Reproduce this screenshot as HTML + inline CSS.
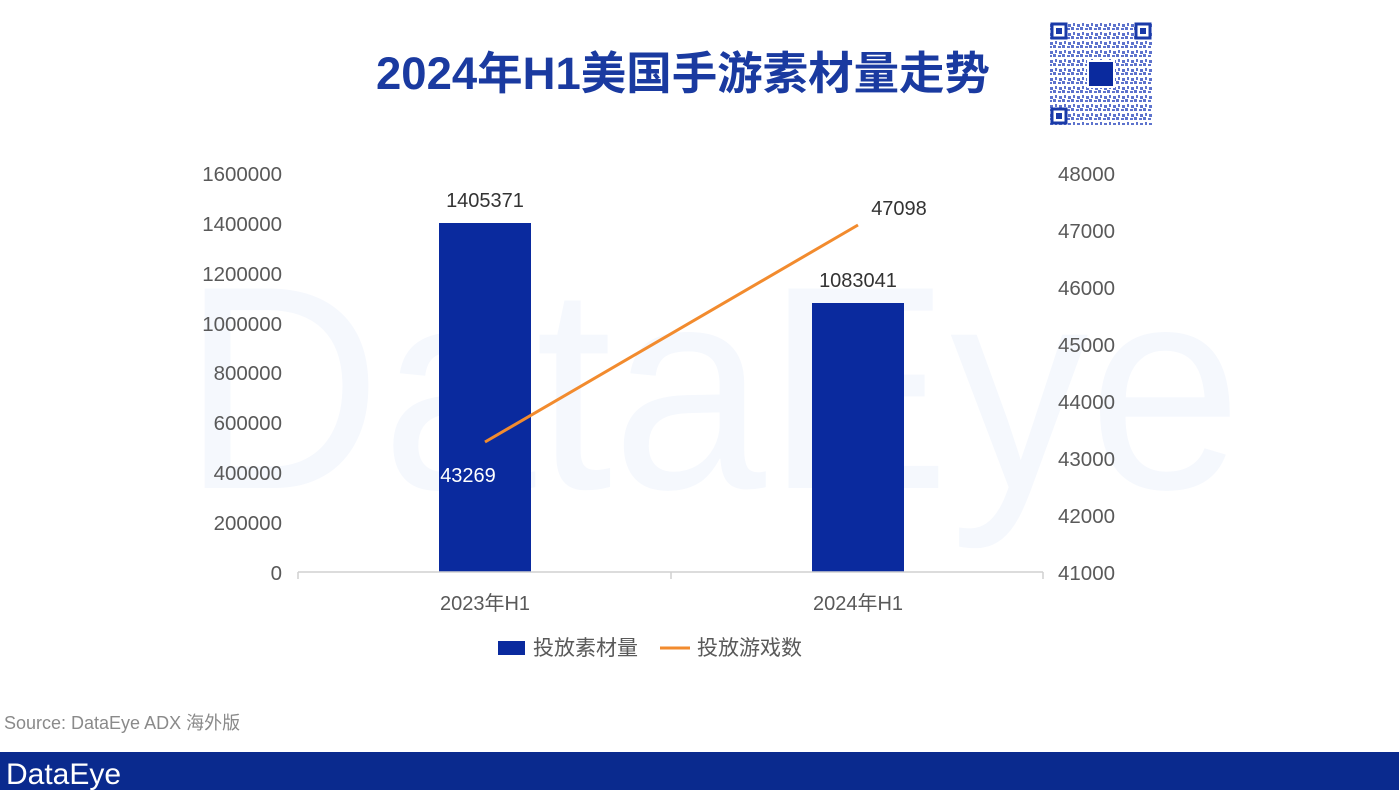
<!DOCTYPE html>
<html><head><meta charset="utf-8"><style>
body{margin:0;width:1399px;height:790px;background:#fff;overflow:hidden;font-family:"Liberation Sans","Noto Sans CJK SC",sans-serif}
</style></head><body>
<svg width="1399" height="790" xmlns="http://www.w3.org/2000/svg" font-family="Liberation Sans, Noto Sans CJK SC, sans-serif">
<defs>
<pattern id="qr" width="9" height="9" patternUnits="userSpaceOnUse">
<rect x="0" y="0" width="3" height="3" fill="#3550c0"/><rect x="5" y="1" width="3" height="2" fill="#3550c0"/><rect x="2" y="5" width="2" height="3" fill="#3550c0"/><rect x="6" y="6" width="3" height="3" fill="#3550c0"/>
</pattern>
</defs>
<text x="712" y="488" font-size="290" fill="#f5f8fd" text-anchor="middle" textLength="1060" lengthAdjust="spacingAndGlyphs" font-family="Liberation Sans, sans-serif">DataEye</text>
<text x="683" y="89" font-size="45" font-weight="bold" fill="#1a3aa0" text-anchor="middle" textLength="614" lengthAdjust="spacingAndGlyphs">2024年H1美国手游素材量走势</text>
<rect x="1050" y="22" width="102" height="103" fill="url(#qr)" opacity="0.8"/>
<g fill="none" stroke="#1a3aa8" stroke-width="3">
<rect x="1052" y="24" width="14" height="14" fill="#fff"/><rect x="1136" y="24" width="14" height="14" fill="#fff"/><rect x="1052" y="109" width="14" height="14" fill="#fff"/></g>
<g fill="#1a3aa8"><rect x="1056" y="28" width="6" height="6"/><rect x="1140" y="28" width="6" height="6"/><rect x="1056" y="113" width="6" height="6"/></g>
<rect x="1088" y="61" width="26" height="26" fill="#0a2a9e" stroke="#fff" stroke-width="2"/>
<g font-size="20.5" fill="#595959" text-anchor="end">
<text x="282" y="181">1600000</text><text x="282" y="231">1400000</text><text x="282" y="281">1200000</text><text x="282" y="331">1000000</text><text x="282" y="380">800000</text><text x="282" y="430">600000</text><text x="282" y="480">400000</text><text x="282" y="530">200000</text><text x="282" y="580">0</text>
</g>
<g font-size="20.5" fill="#595959" text-anchor="start">
<text x="1058" y="181">48000</text><text x="1058" y="238">47000</text><text x="1058" y="295">46000</text><text x="1058" y="352">45000</text><text x="1058" y="409">44000</text><text x="1058" y="466">43000</text><text x="1058" y="523">42000</text><text x="1058" y="580">41000</text>
</g>
<rect x="439" y="223" width="92" height="349" fill="#0a2a9e"/>
<rect x="812" y="303" width="92" height="269" fill="#0a2a9e"/>
<g stroke="#d0d0d0" stroke-width="1.5"><line x1="298" y1="572" x2="1043" y2="572"/><line x1="298" y1="572" x2="298" y2="579"/><line x1="671" y1="572" x2="671" y2="579"/><line x1="1043" y1="572" x2="1043" y2="579"/></g>
<line x1="485" y1="442" x2="858" y2="225" stroke="#f28b2e" stroke-width="3"/>
<g font-size="20" fill="#333" text-anchor="middle">
<text x="485" y="207">1405371</text><text x="858" y="287">1083041</text><text x="899" y="215">47098</text>
<text x="468" y="482" fill="#fff">43269</text>
</g>
<g font-size="20" fill="#595959" text-anchor="middle"><text x="485" y="610">2023年H1</text><text x="858" y="610">2024年H1</text></g>
<rect x="498" y="641" width="27" height="14" fill="#0a2a9e"/>
<text x="533" y="655" font-size="21" fill="#595959">投放素材量</text>
<line x1="660" y1="648" x2="690" y2="648" stroke="#f28b2e" stroke-width="3"/>
<text x="697" y="655" font-size="21" fill="#595959">投放游戏数</text>
<text x="4" y="729" font-size="18" fill="#8a8a8a">Source: DataEye ADX 海外版</text>
<rect x="0" y="752" width="1399" height="38" fill="#0a2a8e"/>
<text x="6" y="784" font-size="30" fill="#fff" font-family="Liberation Sans, sans-serif">DataEye</text>
</svg>
</body></html>
